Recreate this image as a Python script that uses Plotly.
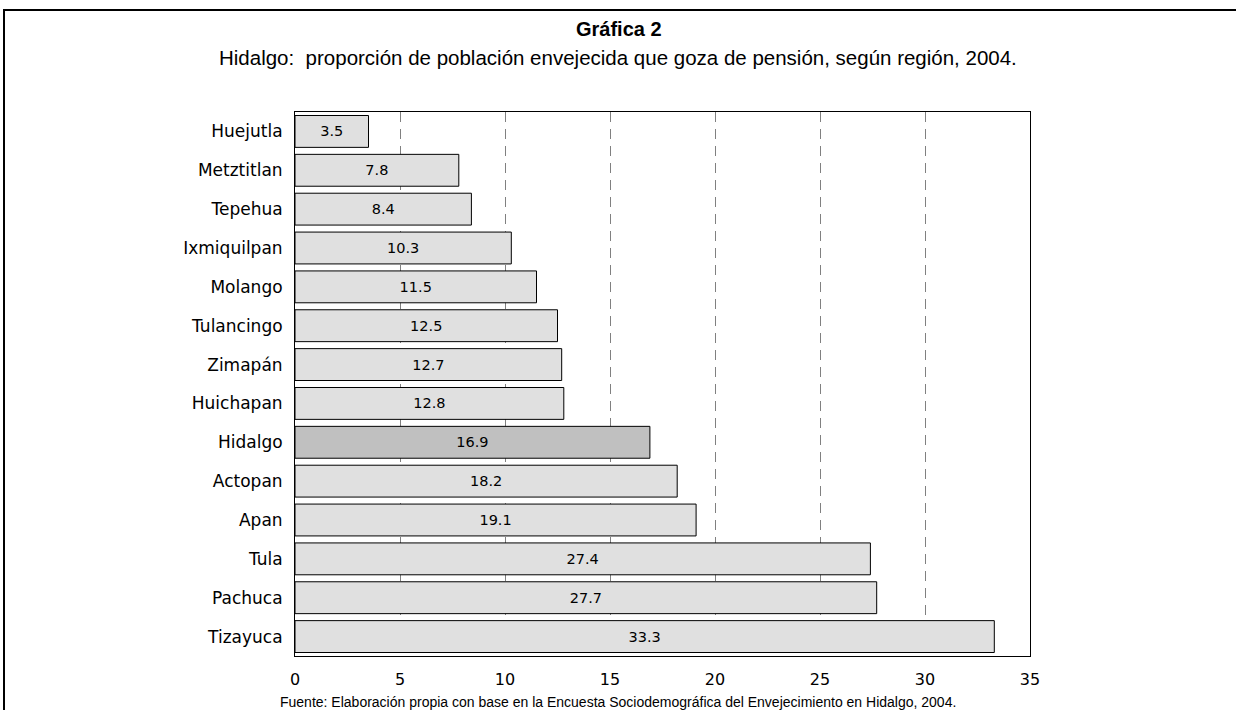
import plotly.graph_objects as go

regions = ["Huejutla", "Metztitlan", "Tepehua", "Ixmiquilpan", "Molango", "Tulancingo",
           "Zimapán", "Huichapan", "Hidalgo", "Actopan", "Apan", "Tula", "Pachuca", "Tizayuca"]
values = [3.5, 7.8, 8.4, 10.3, 11.5, 12.5, 12.7, 12.8, 16.9, 18.2, 19.1, 27.4, 27.7, 33.3]
x_ticks = [0, 5, 10, 15, 20, 25, 30, 35]

colors = ["#C0C0C0" if r == "Hidalgo" else "#E0E0E0" for r in regions]

LABEL_FONT = "DejaVu Sans, Liberation Sans, Arial"
TITLE_FONT = "Liberation Sans, Arial"

fig = go.Figure()
fig.add_trace(go.Bar(
    x=values, y=regions, orientation="h",
    marker=dict(color=colors, line=dict(color="black", width=1)),
    text=[f"{v:.1f}" for v in values],
    textposition="inside", insidetextanchor="middle",
    textfont=dict(family=LABEL_FONT, size=14.5, color="black"),
    constraintext="none",
    hoverinfo="skip",
))

W, H = 1236, 710
L, R, T, B = 295, 1030, 112, 656
pw, ph = R - L, B - T

def px_x(x):
    return (x - L) / pw

def px_y(y):
    return (B - y) / ph

fig.update_layout(
    width=W, height=H,
    margin=dict(l=L, r=W - R, t=T, b=H - B),
    paper_bgcolor="white", plot_bgcolor="white",
    bargap=0.18,
    showlegend=False,
    font=dict(family=TITLE_FONT, color="black"),
    xaxis=dict(range=[0, 35], tickvals=x_ticks, showgrid=True, gridcolor="#808080",
               griddash="10px,7px", gridwidth=1, zeroline=False,
               showline=True, linecolor="black", linewidth=1, mirror=True,
               ticks="outside", ticklen=9, tickcolor="rgba(0,0,0,0)",
               tickfont=dict(size=16, family=LABEL_FONT)),
    yaxis=dict(autorange="reversed", showgrid=False, zeroline=False,
               showline=True, linecolor="black", linewidth=1, mirror=True,
               ticks="outside", ticklen=8, tickcolor="rgba(0,0,0,0)",
               tickfont=dict(size=17, family=LABEL_FONT)),
    shapes=[dict(type="rect", xref="paper", yref="paper",
                 x0=px_x(4), x1=px_x(1245), y0=px_y(720), y1=px_y(10),
                 line=dict(color="black", width=2), fillcolor="rgba(0,0,0,0)")],
    annotations=[
        dict(text="<b>Gráfica 2</b>", xref="paper", yref="paper",
             x=px_x(619), y=px_y(29), xanchor="center", yanchor="middle", showarrow=False,
             font=dict(size=20, family=TITLE_FONT)),
        dict(text="Hidalgo:  proporción de población envejecida que goza de pensión, según región, 2004.",
             xref="paper", yref="paper",
             x=px_x(618), y=px_y(58), xanchor="center", yanchor="middle", showarrow=False,
             font=dict(size=20.5, family=TITLE_FONT)),
        dict(text="Fuente: Elaboración propia con base en la Encuesta Sociodemográfica del Envejecimiento en Hidalgo, 2004.",
             xref="paper", yref="paper",
             x=px_x(618), y=px_y(702), xanchor="center", yanchor="middle", showarrow=False,
             font=dict(size=14, family=TITLE_FONT)),
    ],
)

fig.write_html("out.html",
               config={"displayModeBar": False},
               post_script="document.body.style.margin='0px';document.body.style.padding='0px';")
